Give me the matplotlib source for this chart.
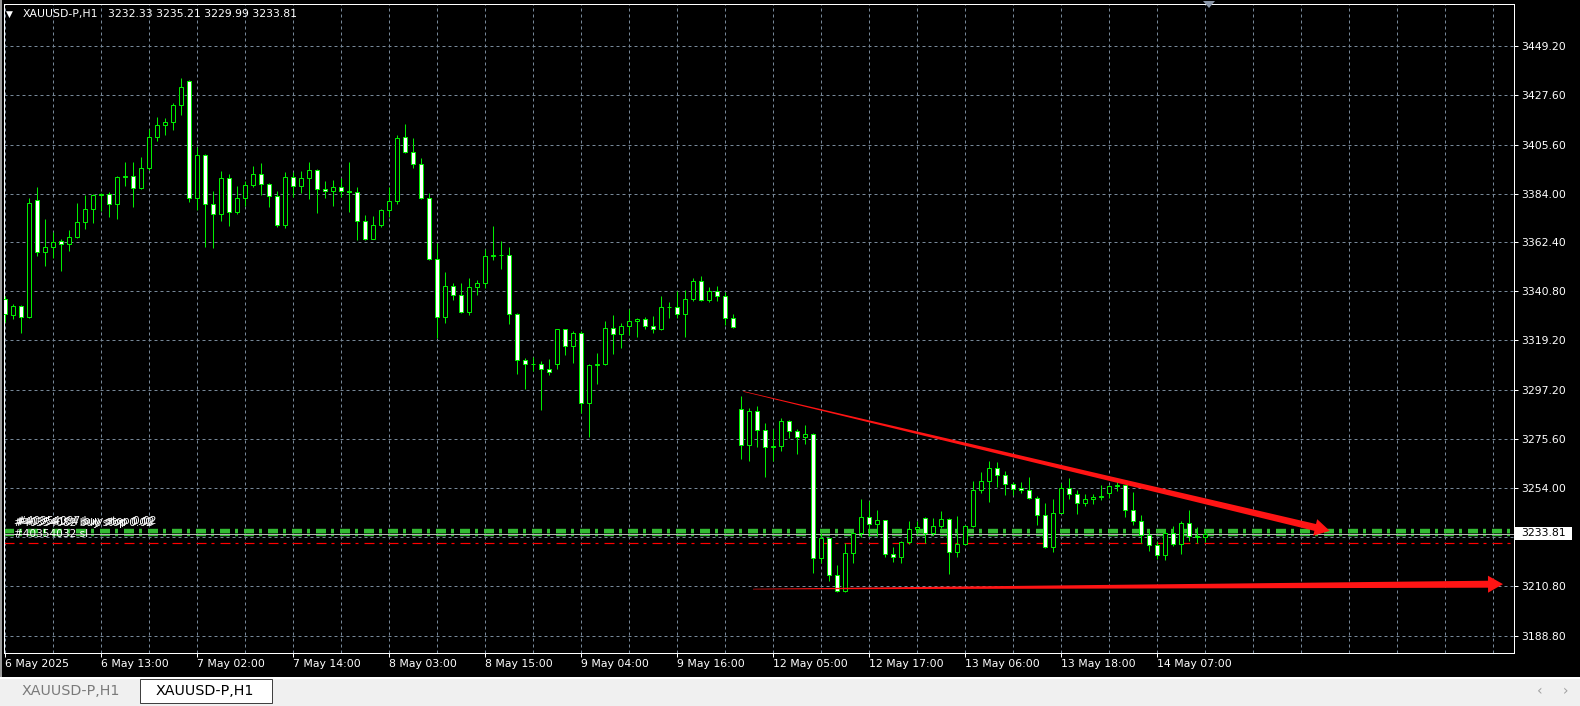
import numpy as np
import matplotlib
matplotlib.use('Agg')
import matplotlib.pyplot as plt
from matplotlib.patches import Rectangle, Polygon

plt.rcParams['font.family'] = ['DejaVu Sans']
plt.rcParams['lines.scale_dashes'] = False

# XAUUSD-P H1 candles, bar 0 = 6 May 2025 01:00
opens = [3337.6, 3330.4, 3334.5, 3329.6, 3381.3, 3358.3, 3360.6, 3363.2, 3361.9, 3364.9,
         3371.5, 3377.3, 3383.5, 3383.8, 3379.5, 3391.4, 3391.6, 3386.5, 3395.4, 3409.0,
         3414.4, 3415.7, 3423.3, 3433.9, 3382.2, 3401.2, 3379.5, 3374.9, 3390.9, 3376.0,
         3382.2, 3387.8, 3392.7, 3388.3, 3383.1, 3370.2, 3391.4, 3387.4, 3390.9, 3394.5,
         3386.0, 3385.3, 3386.9, 3385.3, 3384.9, 3372.0, 3364.1, 3370.2, 3376.9, 3380.9,
         3409.0, 3402.5, 3397.2, 3382.2, 3355.2, 3329.6, 3343.4, 3339.4, 3331.8, 3342.9,
         3344.7, 3356.5, 3356.7, 3356.9, 3330.9, 3310.6, 3308.8, 3308.9, 3306.6, 3308.8,
         3324.2, 3316.8, 3322.6, 3291.5, 3308.4, 3308.6, 3324.8, 3322.1, 3325.6, 3327.8,
         3328.7, 3325.6, 3324.0, 3333.8, 3334.0, 3330.9, 3337.6, 3345.6, 3337.1, 3341.1,
         3338.9, 3329.1, 3288.8, 3273.0, 3287.9, 3279.7, 3272.1, 3272.3, 3283.7, 3279.2,
         3276.5, 3277.9, 3223.1, 3231.8, 3215.5, 3208.4, 3225.3, 3234.0, 3241.2, 3238.0,
         3239.8, 3224.9, 3223.5, 3230.0, 3235.8, 3240.7, 3234.0, 3237.2, 3240.3, 3225.7,
         3229.1, 3237.2, 3253.1, 3257.1, 3262.9, 3259.8, 3255.8, 3254.0, 3253.1, 3249.5,
         3242.1, 3227.9, 3243.0, 3254.0, 3251.3, 3247.3, 3249.1, 3250.0, 3251.8, 3254.9,
         3255.1, 3244.3, 3239.4, 3233.1, 3228.7, 3224.4, 3234.0, 3229.1, 3238.5, 3232.7,
         3232.33]
highs = [3338.9, 3335.3, 3334.9, 3382.2, 3386.9, 3372.8, 3367.1, 3364.1, 3367.9, 3380.0,
         3383.5, 3383.9, 3384.4, 3384.9, 3391.8, 3398.1, 3398.1, 3400.3, 3412.6, 3417.9,
         3417.5, 3424.2, 3435.2, 3434.3, 3404.8, 3401.6, 3385.3, 3394.1, 3392.7, 3387.4,
         3389.6, 3396.3, 3397.6, 3388.7, 3385.3, 3393.6, 3393.6, 3394.1, 3398.1, 3394.9,
         3389.6, 3390.0, 3390.9, 3398.1, 3386.9, 3374.6, 3374.2, 3377.3, 3386.9, 3409.9,
         3414.8, 3408.6, 3399.8, 3384.4, 3362.3, 3349.4, 3344.7, 3344.7, 3346.7, 3346.0,
         3359.7, 3369.8, 3363.2, 3360.6, 3331.1, 3311.5, 3311.9, 3310.1, 3311.0, 3324.4,
         3324.4, 3323.5, 3323.1, 3308.8, 3313.7, 3327.8, 3330.4, 3327.0, 3333.1, 3329.1,
         3329.6, 3330.0, 3338.7, 3336.0, 3341.1, 3341.6, 3346.5, 3347.6, 3342.9, 3343.4,
         3340.7, 3330.9, 3294.6, 3289.3, 3290.2, 3282.8, 3280.1, 3285.0, 3284.1, 3280.1,
         3281.9, 3278.3, 3234.0, 3232.0, 3220.0, 3229.6, 3234.3, 3249.1, 3248.3, 3244.3,
         3240.0, 3227.9, 3230.5, 3239.4, 3239.4, 3241.2, 3240.7, 3243.8, 3240.7, 3241.6,
         3237.6, 3257.1, 3261.1, 3266.0, 3265.6, 3261.6, 3256.7, 3256.7, 3258.9, 3250.4,
         3247.3, 3249.1, 3256.2, 3258.5, 3253.1, 3251.3, 3251.3, 3255.3, 3255.3, 3257.1,
         3255.3, 3252.2, 3242.1, 3235.4, 3230.5, 3235.4, 3237.2, 3239.4, 3244.3, 3236.7,
         3235.21]
lows = [3327.3, 3328.7, 3322.6, 3329.1, 3356.5, 3352.1, 3355.7, 3349.9, 3358.8, 3364.6,
        3368.4, 3371.1, 3376.3, 3373.7, 3372.8, 3387.4, 3378.2, 3386.1, 3394.5, 3407.2,
        3409.9, 3412.1, 3418.8, 3380.4, 3376.9, 3360.6, 3360.1, 3372.0, 3369.8, 3374.9,
        3378.6, 3386.9, 3383.5, 3378.2, 3369.3, 3368.9, 3382.7, 3384.4, 3381.8, 3375.5,
        3382.2, 3378.6, 3382.7, 3376.0, 3363.7, 3363.7, 3364.0, 3369.3, 3373.7, 3379.5,
        3402.1, 3395.4, 3381.8, 3354.8, 3320.4, 3326.9, 3337.1, 3331.3, 3330.4, 3339.4,
        3342.5, 3354.8, 3350.8, 3326.4, 3304.4, 3297.7, 3305.7, 3288.4, 3304.0, 3306.6,
        3312.9, 3309.2, 3287.0, 3276.5, 3300.0, 3308.2, 3313.2, 3315.9, 3321.7, 3320.8,
        3324.0, 3322.6, 3323.7, 3329.1, 3329.1, 3320.8, 3336.7, 3336.7, 3336.2, 3336.7,
        3326.1, 3324.8, 3266.7, 3266.0, 3272.1, 3258.9, 3266.0, 3270.3, 3276.1, 3269.0,
        3273.4, 3216.4, 3220.9, 3212.8, 3207.9, 3208.1, 3220.9, 3232.2, 3232.7, 3232.7,
        3223.5, 3221.3, 3220.9, 3229.1, 3233.6, 3229.6, 3233.1, 3236.3, 3216.0, 3223.5,
        3228.7, 3236.7, 3251.8, 3247.8, 3254.4, 3250.9, 3250.9, 3251.8, 3249.1, 3237.6,
        3227.5, 3225.8, 3242.8, 3249.1, 3242.5, 3246.1, 3246.9, 3248.6, 3249.5, 3252.7,
        3241.2, 3237.6, 3229.6, 3226.2, 3222.6, 3222.2, 3228.3, 3224.9, 3230.5, 3229.6,
        3229.99]
closes = [3330.9, 3334.5, 3329.6, 3380.0, 3358.3, 3360.6, 3362.8, 3361.9, 3364.9, 3371.5,
          3377.3, 3383.5, 3383.8, 3379.5, 3391.4, 3391.6, 3386.5, 3395.4, 3409.0, 3414.4,
          3415.7, 3423.3, 3431.2, 3382.2, 3401.2, 3379.5, 3374.9, 3390.9, 3376.0, 3382.2,
          3387.8, 3392.7, 3388.3, 3383.1, 3370.2, 3391.4, 3387.4, 3390.9, 3394.5, 3386.0,
          3385.3, 3386.9, 3385.3, 3384.9, 3372.0, 3364.1, 3370.2, 3376.9, 3380.9, 3408.6,
          3402.5, 3397.2, 3382.2, 3355.2, 3329.6, 3343.4, 3339.4, 3331.8, 3342.9, 3344.7,
          3356.5, 3356.7, 3356.9, 3330.9, 3310.6, 3308.8, 3308.9, 3306.6, 3305.3, 3324.2,
          3316.8, 3322.6, 3291.5, 3308.4, 3308.6, 3324.8, 3322.1, 3325.6, 3327.8, 3328.7,
          3325.6, 3324.0, 3333.8, 3334.0, 3330.9, 3337.6, 3345.6, 3337.1, 3341.1, 3338.9,
          3329.1, 3325.2, 3273.0, 3287.9, 3279.7, 3272.1, 3272.3, 3283.7, 3279.2, 3276.5,
          3277.9, 3223.1, 3231.8, 3215.5, 3208.4, 3225.3, 3234.0, 3241.2, 3238.0, 3239.8,
          3224.9, 3223.5, 3230.0, 3235.8, 3236.7, 3234.0, 3237.2, 3240.3, 3225.7, 3229.1,
          3237.2, 3253.1, 3257.1, 3262.9, 3259.8, 3255.8, 3253.5, 3253.1, 3249.5, 3242.1,
          3227.9, 3243.0, 3254.0, 3251.3, 3247.3, 3249.1, 3250.0, 3250.3, 3254.9, 3255.1,
          3244.3, 3239.4, 3233.1, 3228.7, 3224.4, 3234.0, 3229.1, 3238.5, 3232.7, 3232.4,
          3233.81]

time_bars = [0, 12, 24, 36, 48, 60, 72, 84, 96, 108, 120, 132, 144]
time_labels = ['6 May 2025', '6 May 13:00', '7 May 02:00', '7 May 14:00', '8 May 03:00',
               '8 May 15:00', '9 May 04:00', '9 May 16:00', '12 May 05:00', '12 May 17:00',
               '13 May 06:00', '13 May 18:00', '14 May 07:00']
price_grid = [3449.20, 3427.60, 3405.60, 3384.00, 3362.40, 3340.80, 3319.20,
              3297.20, 3275.60, 3254.00, 3232.40, 3210.80, 3188.80]
price_hidden = [3232.40]   # covered by the bid label

bid = 3233.81
order_levels = [3235.3, 3234.3, 3233.3]   # pending orders (green)
sl_level = 3229.5
order_texts = ['#40354082 buy stop 0.02', '#40354104 buy stop 0.02', '#40354097 buy stop 0.02']
sl_text = '#40354032 sl'

# hand drawn trend arrows (bar, price)
arrow_top = [(92.3, 3296.6), (165.6, 3235.0)]
arrow_low = [(93.5, 3209.3), (187.25, 3211.5)]

W, H = 1580, 706
PX = 0.72   # one pixel in points
LIME = '#00ee00'
GRID = '#778899'
ORDER = '#33bb33'
RED = '#ff1414'


def fx(x):
    return x / W


def fy(y):
    return 1 - y / H


fig = plt.figure(figsize=(W / 100, H / 100), dpi=100, facecolor='black')
ax = fig.add_axes([fx(4), fy(653), fx(1514) - fx(4), fy(4) - fy(653)])
ax.set_facecolor('black')
ax.set_xlim(-0.125, 188.625)
ax.set_ylim(3181.07, 3467.75)

# grid
for p in price_grid:
    ax.axhline(p, color=GRID, lw=PX, ls=(0, (3 * PX, 3 * PX)), zorder=1)
for b in range(0, 189, 6):
    ax.axvline(b, color=GRID, lw=PX, ls=(0, (3 * PX, 3 * PX)), zorder=1)

# order lines
dashdot = (0, (10 * PX, 5 * PX, 3 * PX, 6 * PX))
for p in order_levels:
    ax.axhline(p, color=ORDER, lw=2.4 * PX, ls=dashdot, zorder=2)
ax.axhline(bid, color='#b4b4b4', lw=PX, zorder=2)
ax.axhline(sl_level, color='#ff0000', lw=1.2 * PX, ls=dashdot, zorder=2)

# candles
o = np.array(opens)
h = np.array(highs)
l = np.array(lows)
c = np.array(closes)
idx = np.arange(len(o))
ax.vlines(idx, l, h, color=LIME, lw=PX, zorder=3)
for i in idx:
    bull = c[i] >= o[i]
    ax.add_patch(Rectangle((i - 0.25, min(o[i], c[i])), 0.5, abs(c[i] - o[i]),
                           fc='black' if bull else 'white', ec=LIME, lw=PX, zorder=4))


def taper_arrow(ax, p0, p1, w0, w1, head_w, head_len, color):
    a = ax.transData.transform([p0, p1])
    d = a[1] - a[0]
    u = d / np.hypot(*d)
    n = np.array([-u[1], u[0]])
    base = a[1] - u * head_len
    pts = [a[0] + n * w0 / 2, base + n * w1 / 2, base + n * head_w / 2, a[1],
           base - n * head_w / 2, base - n * w1 / 2, a[0] - n * w0 / 2]
    pts = ax.transData.inverted().transform(pts)
    ax.add_patch(Polygon(pts, closed=True, fc=color, ec='none', zorder=5))


taper_arrow(ax, arrow_top[0], arrow_top[1], 0.6, 7, 17, 15, RED)
taper_arrow(ax, arrow_low[0], arrow_low[1], 0.6, 7, 17, 15, RED)

# axes, ticks
for s in ax.spines.values():
    s.set_color('white')
    s.set_linewidth(PX)
ax.yaxis.tick_right()
yt = [p for p in price_grid if p not in price_hidden]
ax.set_yticks(yt)
ax.set_yticklabels(['%.2f' % p for p in yt])
ax.tick_params(axis='y', colors='white', length=4 * PX, width=PX, labelsize=7.8, pad=2.5)
ax.set_xticks(time_bars)
ax.set_xticklabels(time_labels, ha='left')
ax.tick_params(axis='x', colors='white', length=4 * PX, width=PX, labelsize=7.8, pad=1.5)

# header
fig.text(fx(6), fy(14), '\u25bc', color='white', fontsize=6.5, va='center', ha='left')
fig.text(fx(23), fy(14), 'XAUUSD-P,H1', color='white', fontsize=7.8, va='center', ha='left')
fig.text(fx(108), fy(14), '3232.33 3235.21 3229.99 3233.81', color='white', fontsize=7.8,
         va='center', ha='left')
fig.add_artist(Polygon([(fx(1203), fy(1)), (fx(1215), fy(1)), (fx(1209), fy(8))],
                       closed=True, transform=fig.transFigure, fc='#8a96a8', ec='none'))

# order labels (MT4 stacks them on top of each other)
for k, t in enumerate(order_texts):
    fig.text(fx(14 + 2 * k), fy(522.5 - 0.5 * k), t, color='white', fontsize=7.6,
             va='center', ha='left')
fig.text(fx(14), fy(534), sl_text, color='white', fontsize=7.6, va='center', ha='left')

# bid label
fig.add_artist(Rectangle((fx(1515), fy(540)), fx(1572) - fx(1515), fy(526.5) - fy(540),
                         transform=fig.transFigure, fc='white', ec='none'))
fig.text(fx(1521), fy(533.5), '%.2f' % bid, color='black', fontsize=7.8, va='center', ha='left')

# left edge and tab bar
fig.add_artist(Rectangle((0, fy(677)), fx(2), fy(0) - fy(677), transform=fig.transFigure,
                         fc='#9a9a9a', ec='none'))
fig.add_artist(Rectangle((0, fy(679)), 1, fy(677) - fy(679), transform=fig.transFigure,
                         fc='white', ec='none'))
fig.add_artist(Rectangle((0, 0), 1, fy(679), transform=fig.transFigure,
                         fc='#f0f0f0', ec='none'))
fig.add_artist(Rectangle((fx(140), fy(703)), fx(272) - fx(140), fy(679) - fy(703),
                         transform=fig.transFigure, fc='white', ec='#404040', lw=PX))
fig.text(fx(71), fy(691), 'XAUUSD-P,H1', color='#7a7a7a', fontsize=10.3, va='center', ha='center')
fig.text(fx(205), fy(691), 'XAUUSD-P,H1', color='black', fontsize=10.3, va='center', ha='center')
fig.text(fx(1540), fy(691), '\u2039', color='#a0a0a0', fontsize=10, va='center', ha='center')
fig.text(fx(1566), fy(691), '\u203a', color='#a0a0a0', fontsize=10, va='center', ha='center')

fig.savefig('out.png', dpi=100, facecolor='black')
